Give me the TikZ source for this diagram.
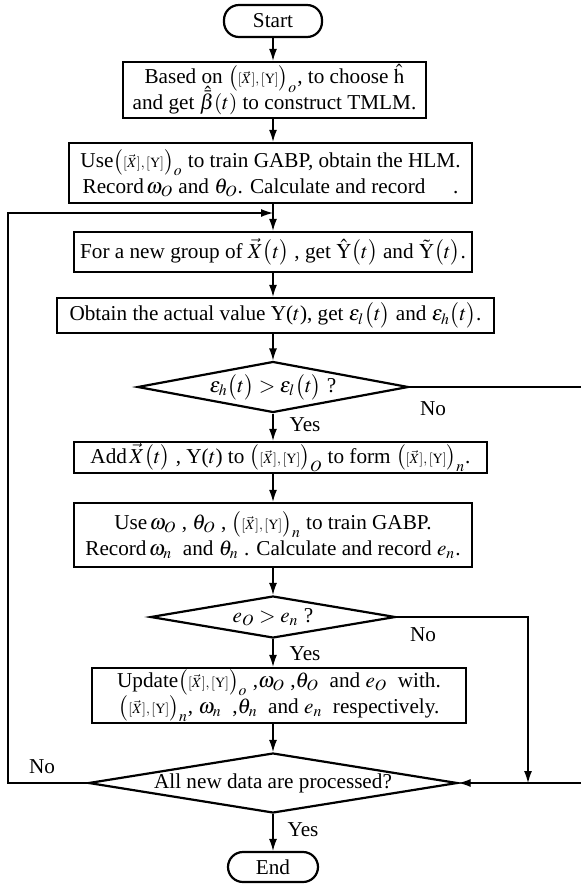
\documentclass[tikz,border=0pt]{standalone}
\usepackage{amsmath}
\usepackage{mathptmx}
\usepackage{fontspec}
\setmainfont{Liberation Serif}
\usetikzlibrary{shapes.geometric,arrows.meta}

\newcommand{\xyset}[1]{\bigl(\mbox{\scriptsize$[\vec{X}],[\mathrm{Y}]$}\bigr)_{#1}}
\AtBeginDocument{\lineskiplimit=-20pt\relax}

\begin{document}
\begin{tikzpicture}[x=0.5pt,y=-0.5pt,
  every node/.style={font=\fontsize{10.6}{13}\selectfont},
  box/.style={draw, line width=1.2pt, rectangle, align=center, inner sep=0pt},
  term/.style={draw, line width=1.1pt, rounded corners=7.5pt, inner sep=0pt},
  dec/.style={draw, line width=1.1pt, diamond, inner sep=0pt},
  conn/.style={line width=0.6pt},
  arr/.style={conn, -{Latex[length=6pt,width=4pt]}},
  lbl/.style={inner sep=0pt}
]
\useasboundingbox (0,0) rectangle (581,885);

\coordinate (axis) at (273,0);

\node[term, minimum width=49pt, minimum height=16pt] (start) at (273,21) {Start};

\node[box, minimum width=151.5pt, minimum height=28pt] (b1) at (274.5,90)
  {Based on $\xyset{o}$, to choose $\hat{\mathrm{h}}$\\and get $\hat{\bar{\beta}}(t)$ to construct TMLM.};

\node[box, minimum width=201.5pt, minimum height=30pt] (b2) at (270.5,173)
  {Use$\xyset{o}$ to train GABP, obtain the HLM.\\Record$\,\omega_O$\ and $\theta_O$. Calculate and record\hspace{1.3em}.};

\node[box, minimum width=199pt, minimum height=20pt] (b3) at (273,252)
  {For a new group of $\vec{X}\bigl(t\bigr)$ , get $\hat{\mathrm{Y}}\bigl(t\bigr)$ and $\tilde{\mathrm{Y}}\bigl(t\bigr)$.};

\node[box, minimum width=218.5pt, minimum height=17.5pt] (b4) at (275.5,315.5)
  {Obtain the actual value Y($t$), get $\varepsilon_l\bigl(t\bigr)$ and $\varepsilon_h\bigl(t\bigr)$.};

\node[dec, minimum width=135.5pt, minimum height=25.5pt] (d1) at (273,387)
  {\makebox[0pt]{$\varepsilon_h\bigl(t\bigr) > \varepsilon_l\bigl(t\bigr)$\ ?}};

\node[box, minimum width=206.5pt, minimum height=15.5pt] (b5) at (280.5,457.5)
  {Add$\,\vec{X}\bigl(t\bigr)$ , Y($t$) to $\xyset{O}$ to form $\xyset{n}$.};

\node[box, minimum width=199pt, minimum height=32pt] (b6) at (273,535)
  {Use$\,\omega_O$ , $\theta_O$ , $\xyset{n}$ to train GABP.\\Record$\,\omega_n$\ \ and $\theta_n$ . Calculate and record $e_n$.};

\node[dec, minimum width=122.5pt, minimum height=21pt] (d3) at (273,617)
  {\makebox[0pt]{$e_O > e_n$ ?}};

\node[box, minimum width=187pt, minimum height=27.5pt] (b7) at (279,695.5)
  {Update$\xyset{o}$ ,$\omega_O$ ,$\theta_O$\ \ and $e_O$\ \ with.\\$\xyset{n}$, $\omega_n$\ \ ,$\theta_n$\ \ and $e_n$\ \ respectively.};

\node[dec, minimum width=184.5pt, minimum height=30pt] (d4) at (273,783)
  {\makebox[0pt]{All new data are processed?}};

\node[term, minimum width=45pt, minimum height=15pt] (end) at (273,867) {End};

% main flow
\draw[arr] (start.south) -- (axis |- b1.north);
\draw[arr] (axis |- b1.south) -- (axis |- b2.north);
\draw[arr] (axis |- b2.south) -- (axis |- b3.north);
\draw[arr] (axis |- b3.south) -- (axis |- b4.north);
\draw[arr] (axis |- b4.south) -- (d1.north);
\draw[arr] (d1.south) -- (axis |- b5.north);
\draw[arr] (axis |- b5.south) -- (axis |- b6.north);
\draw[arr] (axis |- b6.south) -- (d3.north);
\draw[arr] (d3.south) -- (axis |- b7.north);
\draw[arr] (axis |- b7.south) -- (d4.north);
\draw[arr] (d4.south) -- (end.north);

% loop back
\coordinate (lj) at (273,213);
\coordinate (ll) at (8,213);
\draw[arr] (d4.west) -| (ll) -- (lj);

% right side
\coordinate (rc) at (582,600);
\draw[arr] (d1.east) -| (rc) |- (d4.east);
\coordinate (rj) at (528,783);
\draw[arr] (d3.east) -| (rj);

% labels
\node[lbl] (y1) at (305,425) {Yes};
\node[lbl] (y3) at (305,654) {Yes};
\node[lbl] (y4) at (303,830) {Yes};
\node[lbl] (n1) at (433,409) {No};
\node[lbl] (n3) at (423,635) {No};
\node[lbl] (n4) at (42,767) {No};
\end{tikzpicture}
\end{document}
